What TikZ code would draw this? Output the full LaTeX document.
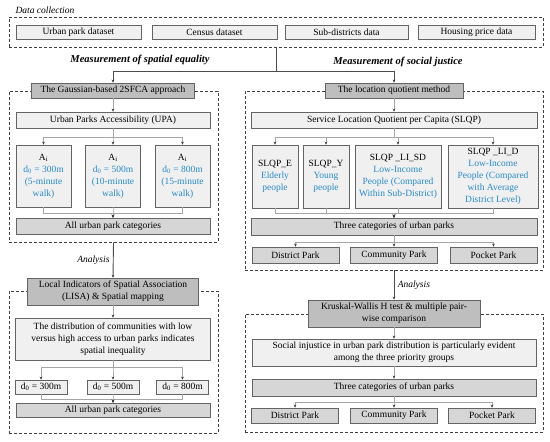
\documentclass[tikz,border=0pt]{standalone}
\usepackage{fontspec}
\setmainfont{Liberation Serif}
\usetikzlibrary{arrows.meta, positioning}

\definecolor{boxline}{RGB}{100,100,100}
\definecolor{lightfill}{RGB}{240,240,240}
\definecolor{midfill}{RGB}{214,214,214}
\definecolor{headfill}{RGB}{190,190,190}
\definecolor{linkgray}{RGB}{165,165,165}
\definecolor{blueT}{RGB}{38,138,200}

\begin{document}
\begin{tikzpicture}
		[x=1pt, y=-1pt,
		font=\fontsize{9.5}{12}\selectfont,
		>={Stealth[length=3pt, width=2.6pt, color=black!80]},
		cbox/.style = {draw=boxline, line width=0.6pt, fill=lightfill, align=center, inner sep=1pt},
		mbox/.style = {cbox, fill=midfill},
		hdbox/.style = {cbox, fill=headfill},
		grp/.style = {draw=black!75, line width=0.8pt, dash pattern=on 3pt off 2pt, inner sep=0pt},
		link/.style = {draw=linkgray, line width=0.6pt},
		trunk/.style = {draw=black!70, line width=0.9pt},
		ttl/.style = {font=\fontsize{10.5}{12}\selectfont\bfseries\itshape},
		lbl/.style = {font=\fontsize{9.5}{12}\selectfont\itshape}]
		
		\useasboundingbox (0,0) rectangle (550,442);
		
		% data collection
		\node[lbl, anchor=west] (dctitle) at (12,10) {Data collection};
		\node[grp, minimum width=534, minimum height=30] (data) at (276,32) {};
		\foreach \x/\w/\nm/\txt in {
			78.5/125/d1/Urban park dataset,
			214.5/125/d2/Census dataset,
			346.5/123/d3/Sub-districts data,
			476.5/117/d4/Housing price data}{
			\node[cbox, minimum width=\w, minimum height=14] (\nm) at (\x,32) {\txt};
		}
		
		\node[ttl] (teq) at (140,60) {Measurement of spatial equality};
		\node[ttl] (tsj) at (398,62) {Measurement of social justice};
		
		% group frames
		\node[grp, minimum width=209, minimum height=151] (left1) at (113.5,166.5) {};
		\node[grp, minimum width=209, minimum height=142] (left2) at (113.5,362) {};
		\node[grp, minimum width=298, minimum height=179] (right1) at (394,180.5) {};
		\node[grp, minimum width=298, minimum height=118] (right2) at (394,373) {};
		
		% spatial equality
		\node[hdbox, minimum width=163, minimum height=15] (g) at (113,90.5) {The Gaussian-based 2SFCA approach};
		\node[cbox, minimum width=194, minimum height=16] (upa) at (113,120) {Urban Parks Accessibility (UPA)};
		\foreach \x/\nm/\dd/\wk in {
			43.5/a1/300/5,
			113/a2/500/10,
			182.5/a3/800/15}{
			\node[cbox, text=blueT, minimum width=55, minimum height=62] (\nm) at (\x,176)
				{\textcolor{black}{A\textsubscript{i}}\\d\textsubscript{0} = \dd m\\(\wk-minute\\walk)};
		}
		\node[mbox, minimum width=194, minimum height=16] (allA) at (113,226) {All urban park categories};
		
		\node[hdbox, minimum width=171, minimum height=27] (lisa) at (113,291.5) {Local Indicators of Spatial Association\\(LISA) \& Spatial mapping};
		\node[cbox, minimum width=195, minimum height=42] (dist) at (113,339) {The distribution of communities with low\\versus high access to urban parks indicates\\spatial inequality};
		\foreach \x/\nm/\dd in {
			41/b1/300,
			113/b2/500,
			182.5/b3/800}{
			\node[cbox, minimum width=52, minimum height=14] (\nm) at (\x,387) {d\textsubscript{0} = \dd m};
		}
		\node[mbox, minimum width=194, minimum height=14] (allB) at (113,410) {All urban park categories};
		
		% social justice
		\node[hdbox, minimum width=138, minimum height=15] (lq) at (394,90.5) {The location quotient method};
		\node[cbox, minimum width=286, minimum height=16] (slqp) at (394,120) {Service Location Quotient per Capita (SLQP)};
		\node[cbox, text=blueT, minimum width=46, minimum height=63] (s1) at (275,176.5) {\textcolor{black}{SLQP\_E}\\Elderly\\people};
		\node[cbox, text=blueT, minimum width=46, minimum height=63] (s2) at (326,176.5) {\textcolor{black}{SLQP\_Y}\\Young\\people};
		\node[cbox, text=blueT, minimum width=86, minimum height=63] (s3) at (398,176.5) {\textcolor{black}{SLQP \_LI\_SD}\\Low-Income\\People (Compared\\Within Sub-District)};
		\node[cbox, text=blueT, minimum width=90, minimum height=63] (s4) at (493,176.5) {\textcolor{black}{SLQP \_LI\_D}\\Low-Income\\People (Compared\\with Average\\District Level)};
		\node[mbox, minimum width=286, minimum height=17] (cat1) at (394,226.5) {Three categories of urban parks};
		\foreach \x/\nm/\txt in {
			295.5/p1/District Park,
			394/p2/Community Park,
			493.5/p3/Pocket Park}{
			\node[mbox, minimum width=87, minimum height=16] (\nm) at (\x,255) {\txt};
		}
		
		\node[hdbox, minimum width=172, minimum height=27] (kw) at (394,313.5) {Kruskal-Wallis H test \& multiple pair-\\wise comparison};
		\node[cbox, minimum width=284, minimum height=27] (soc) at (394,352.5) {Social injustice in urban park distribution is particularly evident\\among the three priority groups};
		\node[mbox, minimum width=284, minimum height=17] (cat2) at (394,387.5) {Three categories of urban parks};
		\foreach \x/\nm/\txt in {
			295/q1/District Park,
			394/q2/Community Park,
			492/q3/Pocket Park}{
			\node[mbox, minimum width=87, minimum height=15] (\nm) at (\x,415.5) {\txt};
		}
		
		% connectors
		\coordinate (j0) at (276,71);
		\draw[trunk] (data.south) -- (j0);
		\draw[trunk,->] (j0) -| (g.north);
		\draw[trunk,->] (j0) -| (lq.north);
		
		\draw[link,->] (g) -- (upa);
		\foreach \t in {a1,a2,a3}{
			\draw[link,->] (upa.south) -- ++(0,9) -| (\t.north);
			\draw[link,->] (\t.south) -- ++(0,6) -| (allA.north);}
		\draw[trunk,->] (left1.south) -- node[lbl, left] {Analysis} (lisa.north);
		\draw[link,->] (lisa) -- (dist);
		\foreach \t in {b1,b2,b3}{
			\draw[link,->] (dist.south) -- ++(0,7) -| (\t.north);
			\draw[link,->] (\t.south) -- ++(0,5) -| (allB.north);}
		
		\draw[link,->] (lq) -- (slqp);
		\foreach \t in {s1,s2,s3,s4}{
			\draw[link,->] (slqp.south) -- ++(0,9) -| (\t.north);
			\draw[link,->] (\t.south) -- ++(0,5) -| (cat1.north);}
		\foreach \t in {p1,p2,p3}
			\draw[link,->] (cat1.south) -- ++(0,7) -| (\t.north);
		\draw[trunk,->] (right1.south) -- node[lbl, right] {Analysis} (kw.north);
		\draw[link,->] (kw) -- (soc);
		\draw[link,->] (soc) -- (cat2);
		\foreach \t in {q1,q2,q3}
			\draw[link,->] (cat2.south) -- ++(0,6) -| (\t.north);
	\end{tikzpicture}
\end{document}
